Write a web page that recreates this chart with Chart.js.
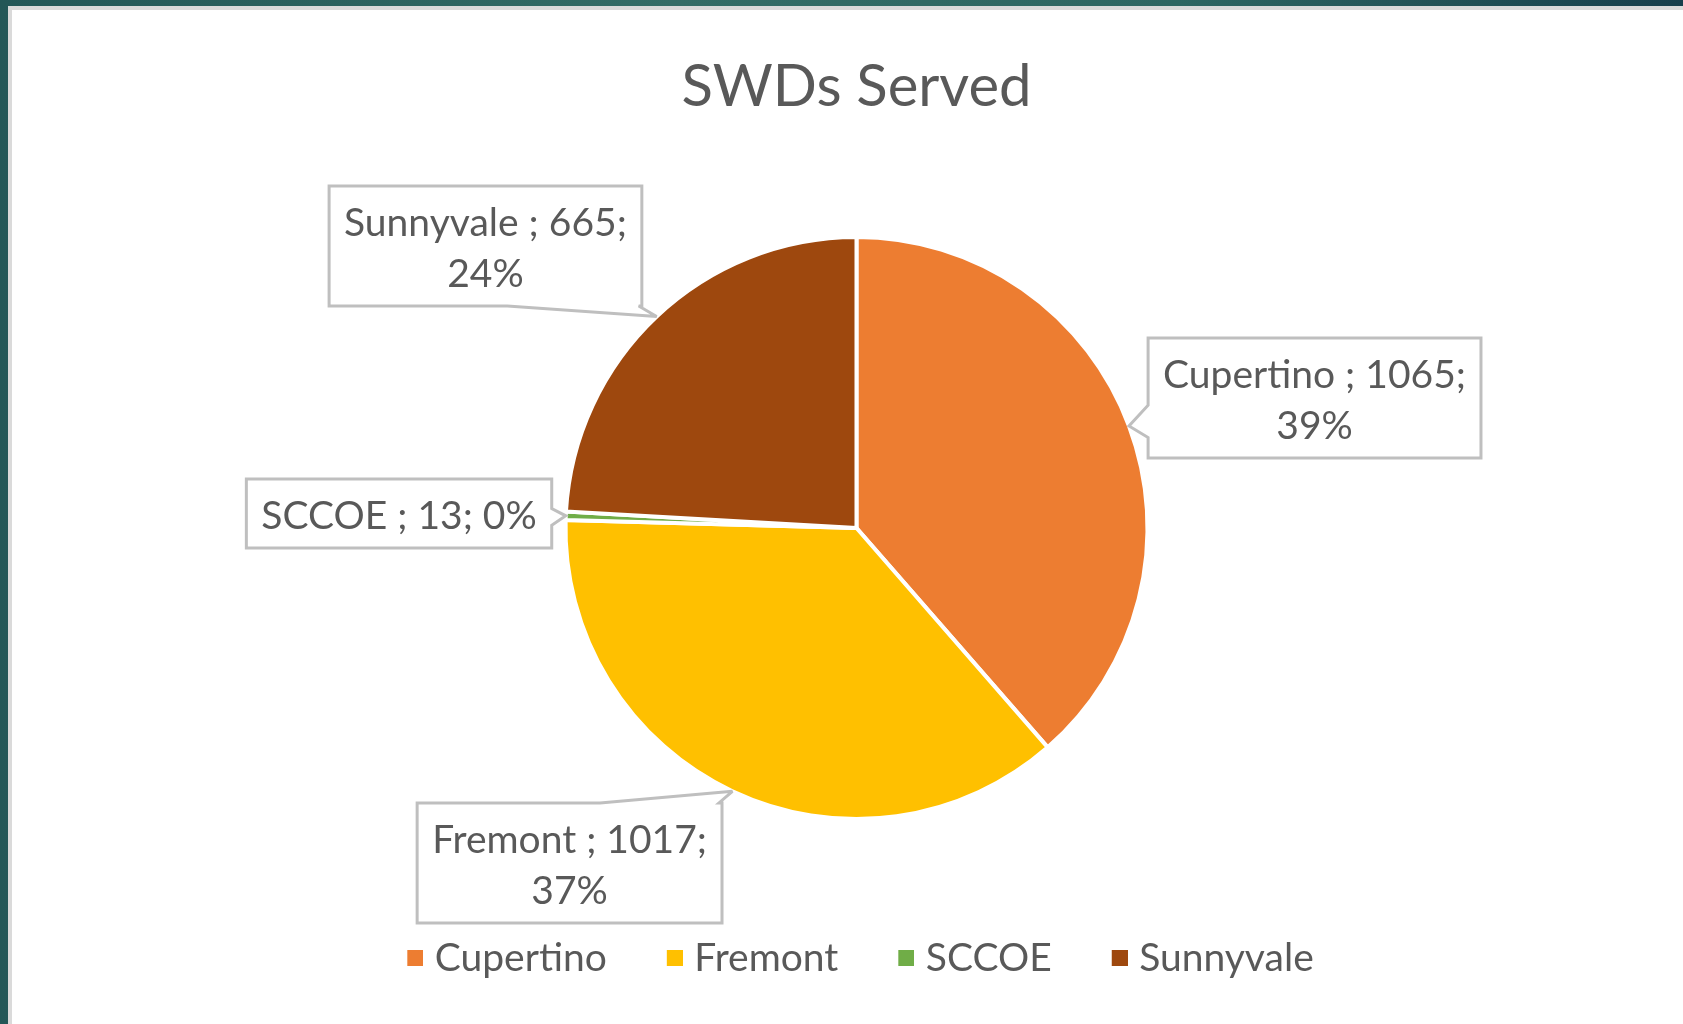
<!DOCTYPE html>
<html><head><meta charset="utf-8">
<script src="https://cdn.jsdelivr.net/npm/chart.js@4.4.1/dist/chart.umd.min.js"></script>
<style>
html,body{margin:0;padding:0;width:1683px;height:1024px;overflow:hidden;}
body{background:linear-gradient(90deg,#235757 0%,#336c66 40%,#2d6662 70%,#173f4c 100%);position:relative;}
#frame{position:absolute;left:8px;top:6px;right:0;bottom:0;background:#fff;border-left:4px solid #dadada;border-top:4px solid #dadada;}
#wrap{position:absolute;left:0;top:0;width:1683px;height:1024px;}
</style></head><body>
<div id="frame"></div>
<div id="wrap"><canvas id="c" width="1683" height="1024"></canvas></div>
<script>
const categories = ['Cupertino', 'Fremont', 'SCCOE', 'Sunnyvale'];
const served = [1065, 1017, 13, 665];
const sliceColors = ['#ED7D31', '#FFC000', '#70AD47', '#9E480E'];
const chartTitle = 'SWDs Served';

// callout styling: box centre relative to pie centre (in radii), wedge base along box edge (fractions)
const calloutOffsets = [[1.574, -0.447], [-0.986, 1.151], [-1.572, -0.050], [-1.275, -0.969]];
const wedgeBase = [[0.56, 0.83], [0.60, 0.99], [0.43, 0.67], [0.57, 0.99]];
const FONT = 'Lato, "Open Sans", sans-serif';
const LBL_SIZE = 39, LINE_H = 51, PAD_X = 15, PAD_Y = 9, MAXW = 310, TEXT_DY = 3;
const TEXT_COLOR = '#595959';

function legendSwatch(color) {
  const c = document.createElement('canvas');
  c.width = 32; c.height = 16;
  const g = c.getContext('2d');
  g.fillStyle = color;
  g.fillRect(16, 0, 16, 16);
  return c;
}

const calloutPlugin = {
  id: 'callouts',
  afterDatasetsDraw(chart) {
    const ctx = chart.ctx;
    const meta = chart.getDatasetMeta(0);
    const data = chart.data.datasets[0].data;
    const total = data.reduce((a, b) => a + b, 0);
    ctx.save();
    ctx.font = LBL_SIZE + 'px ' + FONT;
    meta.data.forEach((arc, i) => {
      const p = arc.getProps(['x', 'y', 'startAngle', 'endAngle', 'outerRadius'], true);
      const mid = (p.startAngle + p.endAngle) / 2;
      const R = p.outerRadius;
      const tip = { x: p.x + R * Math.cos(mid), y: p.y + R * Math.sin(mid) };
      const pct = Math.round(data[i] / total * 100);
      const text = chart.data.labels[i] + ' ; ' + data[i] + '; ' + pct + '%';
      const words = text.split(' ');
      const lines = [];
      let cur = '';
      for (const w of words) {
        const t = cur ? cur + ' ' + w : w;
        if (cur && ctx.measureText(t).width > MAXW) { lines.push(cur); cur = w; } else cur = t;
      }
      lines.push(cur);
      const tw = Math.max(...lines.map(l => ctx.measureText(l).width));
      const w = tw + 2 * PAD_X, h = lines.length * LINE_H + 2 * PAD_Y;
      const cx = p.x + calloutOffsets[i][0] * R, cy = p.y + calloutOffsets[i][1] * R;
      const L = cx - w / 2, T = cy - h / 2, Rr = cx + w / 2, B = cy + h / 2;
      const dx = (tip.x - cx) / (w / 2), dy = (tip.y - cy) / (h / 2);
      let side;
      if (Math.abs(dx) > Math.abs(dy)) side = dx > 0 ? 'right' : 'left';
      else side = dy > 0 ? 'bottom' : 'top';
      const [a, b] = wedgeBase[i];
      ctx.beginPath();
      ctx.moveTo(L, T);
      if (side === 'top') { ctx.lineTo(L + a * w, T); ctx.lineTo(tip.x, tip.y); ctx.lineTo(L + b * w, T); }
      ctx.lineTo(Rr, T);
      if (side === 'right') { ctx.lineTo(Rr, T + a * h); ctx.lineTo(tip.x, tip.y); ctx.lineTo(Rr, T + b * h); }
      ctx.lineTo(Rr, B);
      if (side === 'bottom') { ctx.lineTo(L + b * w, B); ctx.lineTo(tip.x, tip.y); ctx.lineTo(L + a * w, B); }
      ctx.lineTo(L, B);
      if (side === 'left') { ctx.lineTo(L, T + b * h); ctx.lineTo(tip.x, tip.y); ctx.lineTo(L, T + a * h); }
      ctx.closePath();
      ctx.fillStyle = '#ffffff';
      ctx.fill();
      ctx.lineJoin = 'miter';
      ctx.miterLimit = 3;
      ctx.strokeStyle = '#BFBFBF';
      ctx.lineWidth = 3;
      ctx.stroke();
      ctx.fillStyle = TEXT_COLOR;
      ctx.textAlign = 'center';
      ctx.textBaseline = 'middle';
      lines.forEach((ln, k) => ctx.fillText(ln, cx, T + PAD_Y + LINE_H * (k + 0.5) + TEXT_DY));
    });
    ctx.restore();
  }
};

new Chart(document.getElementById('c'), {
  type: 'pie',
  data: {
    labels: categories,
    datasets: [{
      data: served,
      backgroundColor: sliceColors,
      borderColor: '#ffffff',
      borderWidth: 4,
      radius: 291
    }]
  },
  options: {
    responsive: false,
    animation: false,
    devicePixelRatio: 1,
    layout: { padding: { left: 30, right: 0, top: 0, bottom: 36.5 } },
    plugins: {
      tooltip: { enabled: false },
      title: {
        display: true,
        text: chartTitle,
        color: TEXT_COLOR,
        font: { family: FONT, size: 58, weight: 'normal' },
        padding: { top: 52, bottom: 48 }
      },
      legend: {
        position: 'bottom',
        labels: {
          color: TEXT_COLOR,
          font: { family: FONT, size: 39 },
          boxWidth: 16,
          boxHeight: 16,
          usePointStyle: true,
          padding: 52,
          generateLabels(chart) {
            const items = Chart.overrides.pie.plugins.legend.labels.generateLabels(chart);
            items.forEach((it, i) => {
              it.lineWidth = 0;
              it.strokeStyle = 'rgba(0,0,0,0)';
              it.pointStyle = legendSwatch(sliceColors[i]);
            });
            return items;
          }
        }
      }
    }
  },
  plugins: [calloutPlugin]
});
</script>
</body></html>
